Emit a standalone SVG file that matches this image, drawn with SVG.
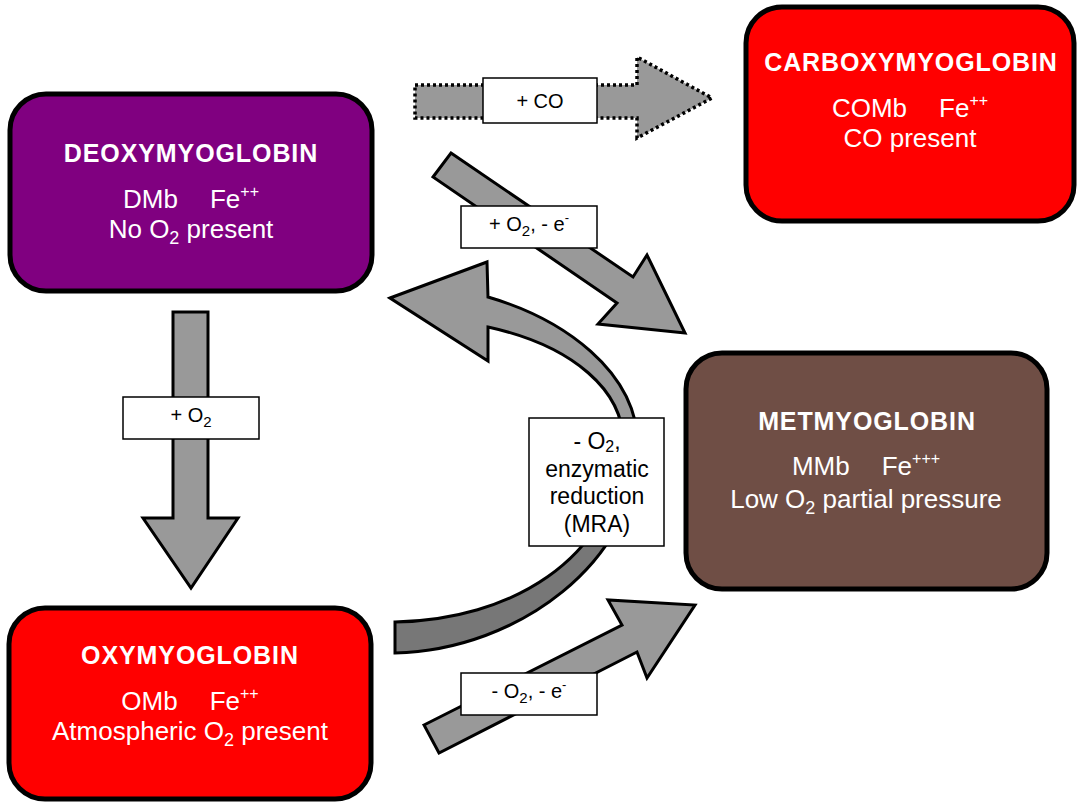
<svg xmlns="http://www.w3.org/2000/svg" width="1077" height="803" viewBox="0 0 1077 803">
<defs>
<style>
.box{stroke:#000;stroke-width:5}
.t{font-family:"Liberation Sans",Arial,sans-serif;fill:#fff;text-anchor:middle}
.title{font-size:25px;font-weight:bold;letter-spacing:0.9px}
.body{font-size:26px}
.arrow{fill:#999;stroke:#000;stroke-width:3;stroke-linejoin:miter}
.lbl{fill:#fff;stroke:#000;stroke-width:1.5}
.lt{font-family:"Liberation Sans",Arial,sans-serif;fill:#000;text-anchor:middle;font-size:20px}
</style>
<linearGradient id="cg" gradientUnits="userSpaceOnUse" x1="0" y1="262" x2="0" y2="653">
<stop offset="0" stop-color="#999"/>
<stop offset="0.55" stop-color="#999"/>
<stop offset="0.55" stop-color="#777"/>
<stop offset="1" stop-color="#777"/>
</linearGradient>
</defs>
<rect width="1077" height="803" fill="#fff"/>

<g id="connectors">
<g id="arrow-co">
<path d="M415,85 L637,85 L637,57 L712,98 L637,138 L637,118 L415,118 Z" fill="#999" stroke="#000" stroke-width="3.5" stroke-dasharray="3 3"/>
<rect class="lbl" x="483" y="78" width="114" height="45"/>
<text class="lt" x="540" y="108">+ CO</text>
</g>
<g id="arrow-deoxy-met">
<path class="arrow" d="M451,153 L633,277 L647,255 L685,333 L598,324 L617,303 L433,177 Z"/>
<rect class="lbl" x="461" y="206" width="136" height="42"/>
<text class="lt" x="529" y="231">+ O<tspan dy="5" font-size="15">2</tspan><tspan dy="-5">, - e</tspan><tspan dy="-9" font-size="13">-</tspan></text>
</g>
<g id="arrow-mra">
<path d="M390,298 L487,262 L488,297 C560,318 640,370 638,450 C636,560 520,650 395,653 L395,622 C510,620 612,560 623,450 C628,390 570,345 488,327 L488,361 Z" fill="url(#cg)" stroke="#000" stroke-width="3"/>
<rect class="lbl" x="529" y="418" width="135" height="128"/>
<text class="lt" style="font-size:23px" x="597" y="449">- O<tspan dy="3" font-size="16">2</tspan><tspan dy="-3">,</tspan></text>
<text class="lt" style="font-size:23px" x="597" y="477">enzymatic</text>
<text class="lt" style="font-size:23px" x="597" y="504">reduction</text>
<text class="lt" style="font-size:23px" x="597" y="532">(MRA)</text>
</g>
<g id="arrow-oxy-met">
<path class="arrow" d="M424,725 L622,625 L608,600 L695,605 L647,678 L637,652 L439,753 Z"/>
<rect class="lbl" x="461" y="673" width="136" height="42"/>
<text class="lt" x="529" y="698">- O<tspan dy="5" font-size="15">2</tspan><tspan dy="-5">, - e</tspan><tspan dy="-9" font-size="13">-</tspan></text>
</g>
<g id="arrow-deoxy-oxy">
<path class="arrow" d="M173,312 L208,312 L208,518 L238,518 L191,588 L143,518 L173,518 Z"/>
<rect class="lbl" x="123" y="397" width="136" height="42"/>
<text class="lt" x="191" y="422">+ O<tspan dy="5" font-size="15">2</tspan></text>
</g>
</g>

<g id="deoxymyoglobin">
<rect class="box" x="10" y="94" width="362" height="197" rx="36" fill="#800080"/>
<text class="t title" x="191" y="162">DEOXYMYOGLOBIN</text>
<text class="t body" x="191" y="208">DMb<tspan dx="32">Fe</tspan><tspan dy="-11" font-size="16">++</tspan></text>
<text class="t body" x="191" y="238">No O<tspan dy="6" font-size="18">2</tspan><tspan dy="-6"> present</tspan></text>
</g>

<g id="carboxymyoglobin">
<rect class="box" x="746" y="7" width="328" height="214" rx="36" fill="#ff0000"/>
<text class="t title" x="911" y="71">CARBOXYMYOGLOBIN</text>
<text class="t body" x="910" y="117">COMb<tspan dx="32">Fe</tspan><tspan dy="-11" font-size="16">++</tspan></text>
<text class="t body" x="910" y="147">CO present</text>
</g>

<g id="metmyoglobin">
<rect class="box" x="686" y="353" width="361" height="236" rx="36" fill="#6f4e45"/>
<text class="t title" x="867" y="430">METMYOGLOBIN</text>
<text class="t body" x="866" y="475">MMb<tspan dx="32">Fe</tspan><tspan dy="-11" font-size="16">+++</tspan></text>
<text class="t body" x="866" y="508">Low O<tspan dy="6" font-size="18">2</tspan><tspan dy="-6"> partial pressure</tspan></text>
</g>

<g id="oxymyoglobin">
<rect class="box" x="9" y="608" width="362" height="191" rx="36" fill="#ff0000"/>
<text class="t title" x="190" y="664">OXYMYOGLOBIN</text>
<text class="t body" x="190" y="710">OMb<tspan dx="32">Fe</tspan><tspan dy="-11" font-size="16">++</tspan></text>
<text class="t body" x="190" y="740">Atmospheric O<tspan dy="6" font-size="18">2</tspan><tspan dy="-6"> present</tspan></text>
</g>
</svg>
